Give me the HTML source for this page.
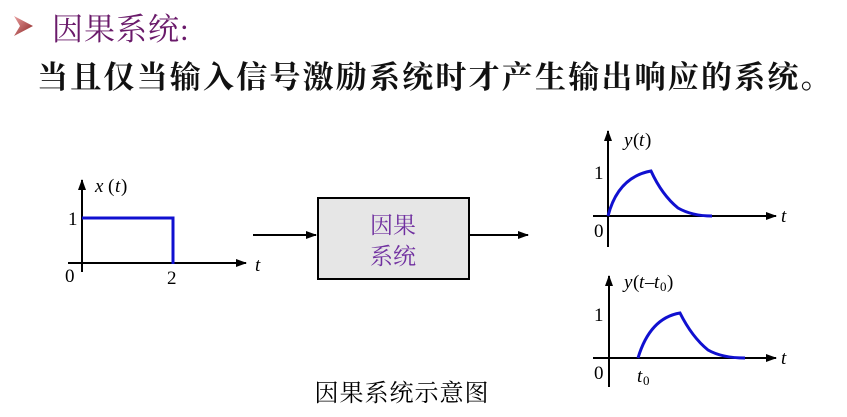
<!DOCTYPE html>
<html><head><meta charset="utf-8"><style>
html,body{margin:0;padding:0;background:#fff;}
body{width:847px;height:417px;overflow:hidden;position:relative;}
</style></head><body>
<svg width="847" height="417" viewBox="0 0 847 417" xmlns="http://www.w3.org/2000/svg" style="position:absolute;left:0;top:0">
<defs>
<marker id="a" markerWidth="11" markerHeight="8" refX="10" refY="4" orient="auto" markerUnits="userSpaceOnUse"><path d="M0,0 L11,4 L0,8 Z" fill="#000"/></marker>
<linearGradient id="g" x1="0" y1="0" x2="1" y2="1"><stop offset="0" stop-color="#e9a0a0"/><stop offset="1" stop-color="#8a2020"/></linearGradient>
</defs>
<path d="M14,16 L33,26 L14,36 L20,26 Z" fill="url(#g)"/>
<text x="52" y="40" font-family="Liberation Serif, Noto Serif CJK SC, serif" font-size="31" letter-spacing="1" fill="#6a1a6a">因果系统:</text>
<text x="37" y="88" font-family="Liberation Serif, Noto Serif CJK SC, serif" font-size="31" font-weight="bold" letter-spacing="2.2" fill="#111">当且仅当输入信号激励系统时才产生输出响应的系统。</text>

<g stroke="#000" stroke-width="2" fill="none">
<line x1="82" y1="272" x2="82" y2="180" marker-end="url(#a)"/>
<line x1="68" y1="263" x2="246" y2="263" marker-end="url(#a)"/>
<line x1="253" y1="235" x2="316" y2="235" marker-end="url(#a)"/>
<line x1="469" y1="235" x2="528" y2="235" marker-end="url(#a)"/>
<line x1="608" y1="247" x2="608" y2="131" marker-end="url(#a)"/>
<line x1="593" y1="216" x2="776" y2="216" marker-end="url(#a)"/>
<line x1="609" y1="387" x2="609" y2="276" marker-end="url(#a)"/>
<line x1="593" y1="358" x2="776" y2="358" marker-end="url(#a)"/>
</g>
<rect x="318" y="198" width="151" height="81" fill="#e6e6e6" stroke="#000" stroke-width="2"/>
<text x="393" y="233" text-anchor="middle" font-family="Liberation Serif, Noto Serif CJK SC, serif" font-size="23" fill="#7030a0">因果</text>
<text x="393" y="264" text-anchor="middle" font-family="Liberation Serif, Noto Serif CJK SC, serif" font-size="23" fill="#7030a0">系统</text>
<g stroke="#1010d0" stroke-width="3" fill="none">
<path d="M82,218 L173,218 L173,264"/>
<path d="M608,216 Q618,177 651,171 Q662,195 678,208 Q692,216 712,216"/>
<path d="M638,358 Q650,318 680,313 Q692,337 708,350 Q722,358 745,358"/>
</g>
<g font-family="Liberation Serif, serif" font-size="19" fill="#000">
<text x="95" y="192" font-style="italic">x</text><text x="108" y="192">(</text><text x="115" y="192" font-style="italic">t</text><text x="121" y="192">)</text>
<text x="68" y="225">1</text><text x="65" y="282">0</text><text x="167" y="284">2</text>
<text x="255" y="271" font-style="italic">t</text>
<text x="624" y="146" font-style="italic">y</text><text x="633" y="146">(</text><text x="639" y="146" font-style="italic">t</text><text x="645" y="146">)</text>
<text x="594" y="179">1</text><text x="594" y="237">0</text>
<text x="781" y="222" font-style="italic">t</text>
<text x="624" y="288" font-style="italic">y</text><text x="633" y="288">(</text><text x="639" y="288" font-style="italic">t</text><text x="645" y="288">–</text><text x="654" y="288" font-style="italic">t</text><text x="660" y="291" font-size="13">0</text><text x="667" y="288">)</text>
<text x="594" y="321">1</text><text x="594" y="379">0</text>
<text x="637" y="382" font-style="italic">t</text><text x="643" y="385" font-size="13">0</text>
<text x="781" y="364" font-style="italic">t</text>
</g>
<text x="402" y="401" text-anchor="middle" font-family="Liberation Serif, Noto Serif CJK SC, serif" font-size="24" letter-spacing="1" fill="#000">因果系统示意图</text>
</svg>
</body></html>
